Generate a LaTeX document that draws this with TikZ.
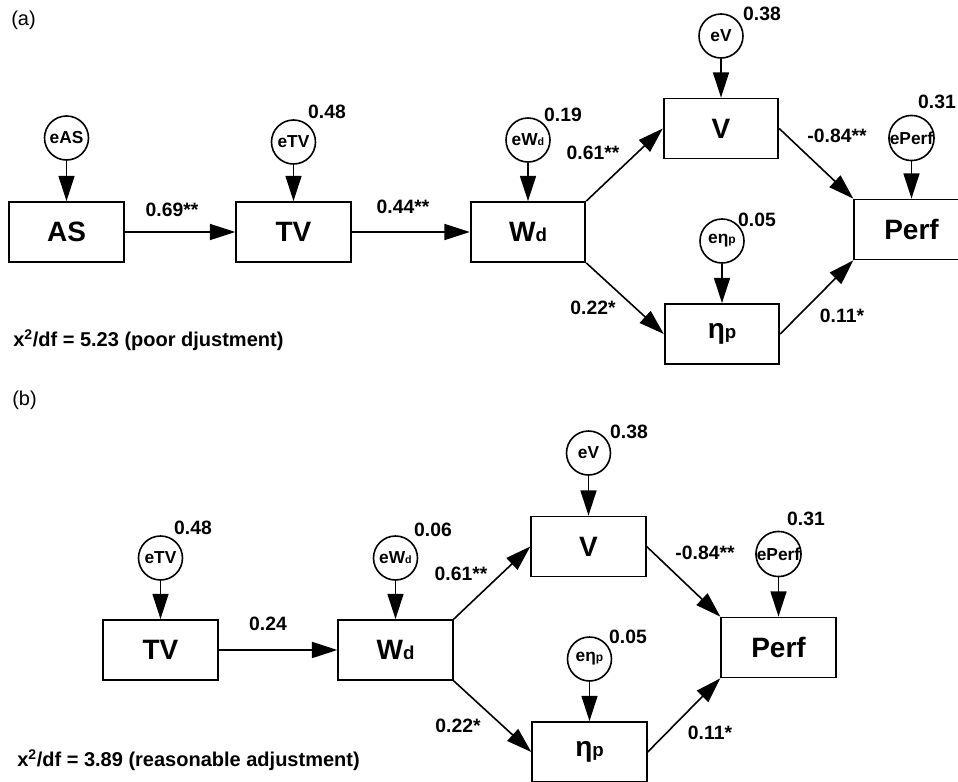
\documentclass[tikz,border=0pt]{standalone}
\usepackage{fontspec}
\setmainfont{Liberation Sans}
\usetikzlibrary{arrows.meta}
\newcommand{\Wd}{W{\fontsize{14}{14}\selectfont d}}
\newcommand{\etap}{η{\fontsize{14}{14}\selectfont p}}
\newcommand{\Wds}{W{\fontsize{8}{8}\selectfont d}}
\newcommand{\etaps}{η{\fontsize{9}{9}\selectfont p}}
\begin{document}
\begin{tikzpicture}[x=0.75pt, y=-0.75pt,
    var/.style={draw, line width=1.3pt, minimum width=86pt, minimum height=45pt, inner sep=0pt,
      font=\fontsize{21}{24}\selectfont\bfseries},
    err/.style={circle, draw, line width=1.2pt, minimum size=33pt, inner sep=0pt,
      font=\fontsize{13}{15}\selectfont\bfseries},
    coef/.style={inner sep=0pt, font=\fontsize{14.5}{16}\selectfont\bfseries},
    link/.style={-{Triangle[length=19pt, width=12pt]}, line width=1.2pt},
    stat/.style={anchor=west, inner sep=0pt, font=\fontsize{15}{17}\selectfont\bfseries}
  ]
  \useasboundingbox (0,0) rectangle (958,782);
  % panel (a)
  \node[anchor=west, inner sep=0pt, font=\fontsize{15}{17}\selectfont] (pa) at (11,20) {(a)};
  \foreach \n/\x/\y/\t in {AS/66.5/232/AS, TV/293.5/232/TV, Wd/528/232/\Wd,
      V/721/128.5/V, Eta/722/334/\etap, Perf/911.5/229.5/Perf}
    \node[var] (a\n) at (\x,\y) {\t};
  % panel (b)
  \node[anchor=west, inner sep=0pt, font=\fontsize{15}{17}\selectfont] (pb) at (12,400) {(b)};
  \foreach \n/\x/\y/\t in {TV/160.5/650/TV, Wd/395.5/650/\Wd,
      V/588.5/546.5/V, Eta/589.5/752/\etap, Perf/778.5/647.5/Perf}
    \node[var] (b\n) at (\x,\y) {\t};
  % error terms
  \node[err] (aeAS) at (aAS |- 0,138) {eAS};
  \draw[link] (aeAS) -- (aAS);
  \foreach \p/\n/\y/\t/\v/\vx/\vy in {a/TV/142/TV/0.48/327/112, a/Wd/140/\Wds/0.19/563/115,
      a/V/36/V/0.38/762/14, a/Eta/241/\etaps/0.05/757/220, a/Perf/138/Perf/0.31/937/102,
      b/TV/558/TV/0.48/193/528, b/Wd/558/\Wds/0.06/433/530, b/V/453/V/0.38/629/432,
      b/Eta/659/\etaps/0.05/628/637, b/Perf/554/Perf/0.31/806/519} {
    \node[err] (\p e\n) at (\p\n |- 0,\y) {e\t};
    \node[coef] (\p r\n) at (\vx,\vy) {\v};
    \draw[link] (\p e\n) -- (\p\n);
  }
  % paths
  \draw[link] (aAS) -- (aTV);
  \draw[link] (aTV) -- (aWd);
  \draw[link] (bTV) -- (bWd);
  \foreach \p in {a,b} {
    \draw[link] (\p Wd.north east) -- (\p V.west);
    \draw[link] (\p Wd.south east) -- (\p Eta.west);
    \draw[link] (\p V.east) -- (\p Perf.north west);
    \draw[link] (\p Eta.east) -- (\p Perf.south west);
  }
  % coefficients
  \foreach \n/\x/\y/\t in {a1/172/210/0.69**, a2/403/207/0.44**, a3/593/153/0.61**,
      a4/593/308/0.22*, a5/837/136/-0.84**, a6/842/316/0.11*,
      b1/268/624/0.24, b2/461/574/0.61**, b3/458/726/0.22*,
      b4/705/553/-0.84**, b5/710/733/0.11*}
    \node[coef] (c\n) at (\x,\y) {\t};
  \node[stat] (afit) at (13,340) {x\textsuperscript{2}/df = 5.23 (poor djustment)};
  \node[stat] (bfit) at (17,760) {x\textsuperscript{2}/df = 3.89 (reasonable adjustment)};
\end{tikzpicture}
\end{document}
